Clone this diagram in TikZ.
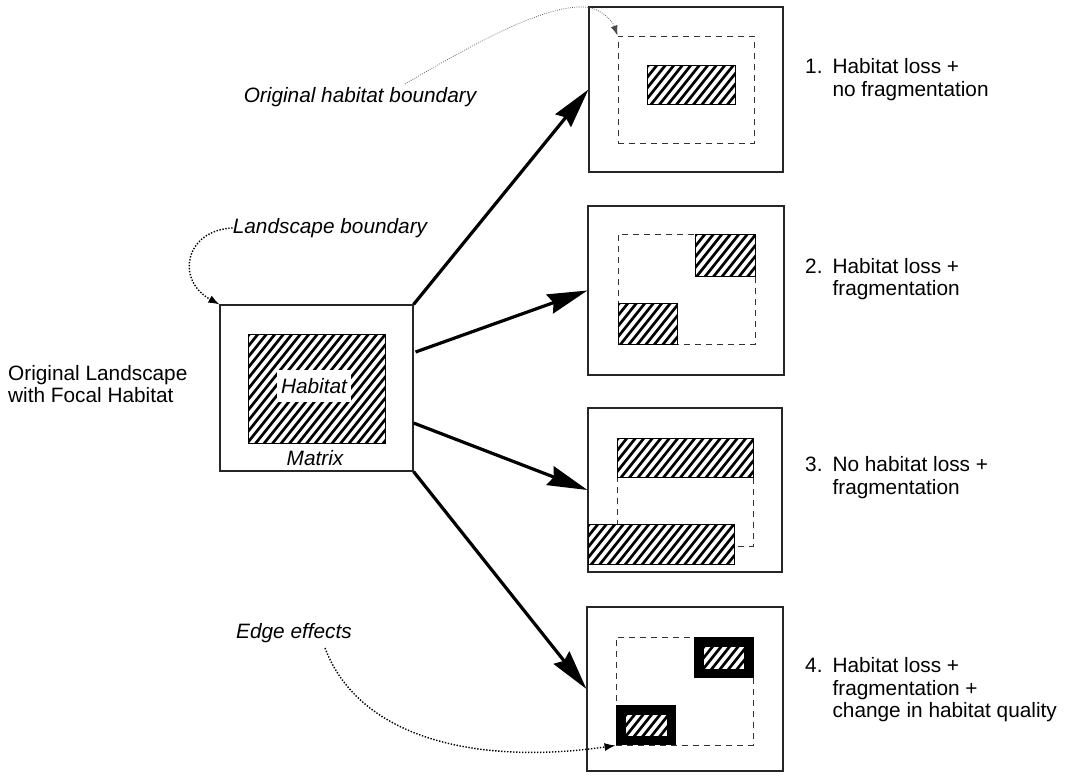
\documentclass[tikz,border=0pt]{standalone}
\usepackage{fontspec}
\setmainfont{Liberation Sans}
\usetikzlibrary{arrows.meta,calc}
\tikzset{
  frame/.style={draw=black!85, line width=1.1pt, inner sep=0pt, minimum width=#1},
  dashbox/.style={draw=black!80, line width=0.9pt, dash pattern=on 6pt off 5pt, inner sep=0pt, minimum width=#1},
  hatchline/.style={line width=2.7pt, black},
  lbl/.style={font=\fontsize{20.8}{22.5}\selectfont, inner sep=0pt},
  ilbl/.style={font=\fontsize{20.8}{22.5}\selectfont\itshape, inner sep=0pt},
  bigarrow/.style={line width=3.2pt, black, -{Stealth[length=40pt,width=20pt,inset=4pt]}},
  fineptr/.style={black!70, line width=0.7pt, dash pattern=on 0.8pt off 1.4pt, -{Latex[length=10pt,width=7pt]}},
  boldptr/.style={black, line width=1.4pt, dash pattern=on 1.4pt off 1.6pt, -{Latex[length=11pt,width=8pt]}}
}
\newcommand\hatchbox[4]{%
  \fill[white] (#1,#2) rectangle (#3,#4);
  \begin{scope}
    \clip (#1,#2) rectangle (#3,#4);
    \pgfmathsetmacro\hh{#4-#2}
    \pgfmathsetmacro\xs{#1-\hh*0.8-8.5}
    \pgfmathsetmacro\xn{\xs+8.5}
    \foreach \x in {\xs,\xn,...,#3} \draw[hatchline] (\x,#4+2) -- ++({(\hh+4)*0.8},{-(\hh+4)});
  \end{scope}
  \draw[black, line width=0.8pt] (#1,#2) rectangle (#3,#4);}
\begin{document}
\begin{tikzpicture}[x=1pt,y=-1pt]
\useasboundingbox (0,0) rectangle (1067,776);

% left landscape
\node[frame=193pt, minimum height=166pt] (L) at (316.5,388) {};
\hatchbox{248}{334}{385}{443}
\node[ilbl, fill=white, minimum width=74pt, minimum height=32pt] (hab) at (314,386) {Habitat};
\node[ilbl] (mat) at (315,458) {Matrix};
\node[lbl, align=left, anchor=west] (olt) at (8,384) {Original Landscape\\with Focal Habitat};

% box 1
\node[frame=194pt, minimum height=165pt] (b1) at (686,89.5) {};
\node[dashbox=136pt, minimum height=107pt] (d1) at (686,89.5) {};
\hatchbox{647}{65}{735}{104}

% box 2
\node[frame=196pt, minimum height=169pt] (b2) at (686,290.5) {};
\node[dashbox=137pt, minimum height=110pt] (d2) at (686.5,289) {};
\hatchbox{695}{234}{755}{276}
\hatchbox{618}{303}{677}{344}

% box 3
\node[frame=194pt, minimum height=164pt] (b3) at (685,490) {};
\node[dashbox=136pt, minimum height=108pt] (d3) at (685,492) {};
\hatchbox{617}{438}{753}{477}
\hatchbox{588}{524}{734}{564}

% box 4
\node[frame=196pt, minimum height=164pt] (b4) at (685,689) {};
\node[dashbox=137pt, minimum height=108pt] (d4) at (684.5,691) {};
\fill[black] (694,637) rectangle (754,678);
\hatchbox{703}{646}{744}{669}
\fill[black] (616,705) rectangle (676,745);
\hatchbox{625}{714}{667}{736}

% labels
\node[lbl, anchor=west] (t1) at (805,80.5) {\begin{tabular}{@{}l@{\hspace{10pt}}l@{}}1.&Habitat loss +\\&no fragmentation\end{tabular}};
\node[lbl, anchor=west] (t2) at (805,280) {\begin{tabular}{@{}l@{\hspace{10pt}}l@{}}2.&Habitat loss +\\&fragmentation\end{tabular}};
\node[lbl, anchor=west] (t3) at (805,478.5) {\begin{tabular}{@{}l@{\hspace{10pt}}l@{}}3.&No habitat loss +\\&fragmentation\end{tabular}};
\node[lbl, anchor=west] (t4) at (805,690.5) {\begin{tabular}{@{}l@{\hspace{10pt}}l@{}}4.&Habitat loss +\\&fragmentation +\\&change in habitat quality\end{tabular}};

\node[ilbl] (ohb) at (360,97) {Original habitat boundary};
\node[ilbl] (lb) at (330,228) {Landscape boundary};
\node[ilbl] (ee) at (294,633) {Edge effects};

% big arrows
\draw[bigarrow] (L.north east) -- (b1.west);
\draw[bigarrow] ($(L.east)+(2,-36)$) -- (b2.west);
\draw[bigarrow] ($(L.east)+(0,35)$) -- (b3.west);
\draw[bigarrow] (L.south east) -- (b4.west);

% pointers
\coordinate (ohbstart) at (405,84);
\draw[fineptr] (ohbstart) .. controls (480,40) and (545,5) .. (585,7) .. controls (600,8) and (612,20) .. (d1.north west);
\draw[boldptr] (lb.west) .. controls (185,230) and (175,280) .. (L.north west);
\coordinate (eestart) at (325,648);
\draw[boldptr] (eestart) .. controls (360,740) and (480,765) .. (d4.south west);
\end{tikzpicture}
\end{document}
